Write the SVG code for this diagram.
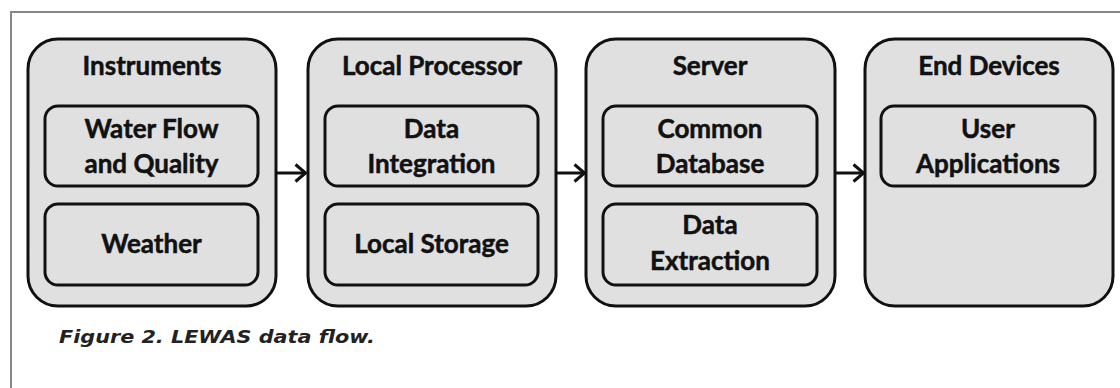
<svg xmlns="http://www.w3.org/2000/svg" width="1120" height="388" viewBox="0 0 1120 388">
<defs>
<style>
.outer{fill:#e0e0e0;stroke:#111;stroke-width:3}
.inner{fill:#e0e0e0;stroke:#111;stroke-width:3}
.t{font-family:Lato,"Liberation Sans",sans-serif;font-weight:bold;font-size:26px;fill:#111;stroke:#111;stroke-width:0.5;text-anchor:middle}
.cap{font-family:"DejaVu Sans","Liberation Sans",sans-serif;font-weight:bold;font-style:italic;font-size:18px;fill:#222}
.conn{stroke:#111;stroke-width:3;fill:none}
</style>
<marker id="ah" viewBox="0 0 13 20" refX="12" refY="10" markerWidth="13" markerHeight="20" markerUnits="userSpaceOnUse" orient="auto">
<path d="M1.5,1.5 L11.5,10 L1.5,18.5" fill="none" stroke="#111" stroke-width="3"/>
</marker>
</defs>
<rect width="1120" height="388" fill="#fff"/>
<path d="M11,388 V12 H1120" fill="none" stroke="#888" stroke-width="2"/>
<g id="instruments">
<rect class="outer" x="28" y="39" width="248" height="267" rx="30"/>
<text class="t" x="152" y="75">Instruments</text>
<g id="water-flow">
<rect class="inner" x="45" y="106" width="213" height="80" rx="13"/>
<text class="t" x="151.5" y="138">Water Flow</text>
<text class="t" x="151.5" y="173">and Quality</text>
</g>
<g id="weather">
<rect class="inner" x="45" y="204" width="213" height="81" rx="13"/>
<text class="t" x="151.5" y="253">Weather</text>
</g>
</g>
<g id="local-processor">
<rect class="outer" x="308" y="39" width="248" height="267" rx="30"/>
<text class="t" x="432" y="75">Local Processor</text>
<g id="data-integration">
<rect class="inner" x="325" y="106" width="213" height="80" rx="13"/>
<text class="t" x="431.5" y="138">Data</text>
<text class="t" x="431.5" y="173">Integration</text>
</g>
<g id="local-storage">
<rect class="inner" x="325" y="204" width="213" height="81" rx="13"/>
<text class="t" x="431.5" y="253">Local Storage</text>
</g>
</g>
<g id="server">
<rect class="outer" x="586" y="39" width="249" height="267" rx="30"/>
<text class="t" x="710" y="75">Server</text>
<g id="common-database">
<rect class="inner" x="603" y="106" width="214" height="80" rx="13"/>
<text class="t" x="710" y="138">Common</text>
<text class="t" x="710" y="173">Database</text>
</g>
<g id="data-extraction">
<rect class="inner" x="603" y="204" width="214" height="81" rx="13"/>
<text class="t" x="710" y="234">Data</text>
<text class="t" x="710" y="270">Extraction</text>
</g>
</g>
<g id="end-devices">
<rect class="outer" x="865" y="39" width="248" height="267" rx="30"/>
<text class="t" x="989" y="75">End Devices</text>
<g id="user-applications">
<rect class="inner" x="881" y="106" width="214" height="80" rx="13"/>
<text class="t" x="988" y="138">User</text>
<text class="t" x="988" y="173">Applications</text>
</g>
</g>
<g id="connectors">
<line class="conn" x1="277" y1="173" x2="306" y2="173" marker-end="url(#ah)"/>
<line class="conn" x1="557" y1="173" x2="585" y2="173" marker-end="url(#ah)"/>
<line class="conn" x1="836" y1="173" x2="864" y2="173" marker-end="url(#ah)"/>
</g>
<text class="cap" x="59" y="343" textLength="316" lengthAdjust="spacingAndGlyphs">Figure 2. LEWAS data flow.</text>
</svg>
